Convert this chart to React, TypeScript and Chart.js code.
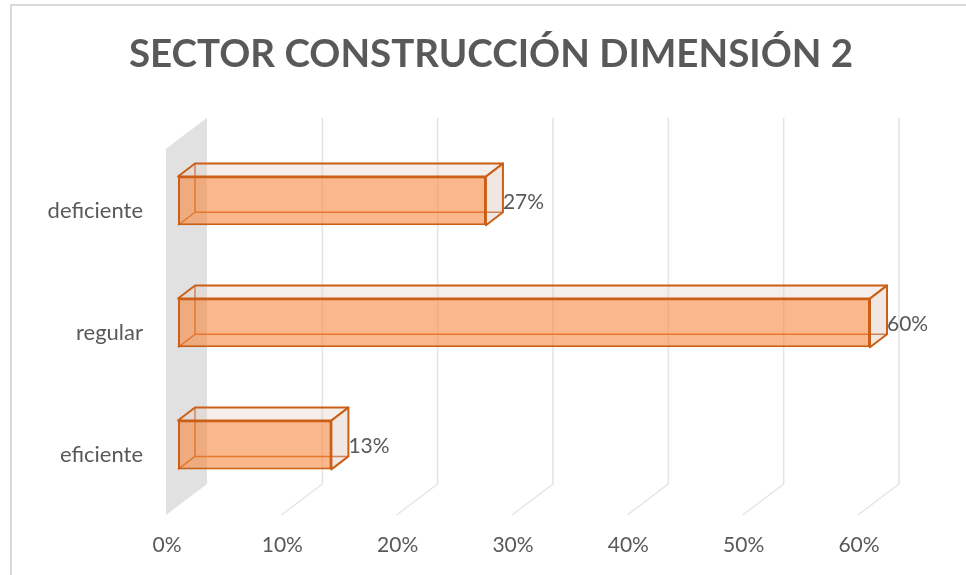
import React, { useEffect, useRef } from 'react';
import { Chart, registerables } from 'chart.js';

Chart.register(...registerables);

// ---- data ----
const TITLE = 'SECTOR CONSTRUCCIÓN DIMENSIÓN 2';
const categories = ['deficiente', 'regular', 'eficiente'];
const values = [26.7, 60, 13.3];
const xTicks = [0, 10, 20, 30, 40, 50, 60];

// ---- style ----
const TEXT = '#595959';
const FONT = 'Lato, "Open Sans", sans-serif';
const EDGE = '#CC5F16';
const FRONT_FILL = 'rgba(246,135,62,0.6)';
const TOP_FILL = 'rgba(225,205,195,0.35)';
const SIDE_FILL = 'rgba(215,190,180,0.38)';
const WALL = '#e1e1e1';
const GRID = '#e4e4e4';

// projection offsets (px) relative to the bar front plane
const FLOOR = { dx: -12, dy: 9 };
const BACK = { dx: 29, dy: -22 };
const DEPTH = { dx: 17, dy: -13 };

const poly = (ctx: CanvasRenderingContext2D, pts: number[][]) => {
  ctx.beginPath();
  ctx.moveTo(pts[0][0], pts[0][1]);
  for (let i = 1; i < pts.length; i++) ctx.lineTo(pts[i][0], pts[i][1]);
  ctx.closePath();
};

const plot3d = {
  id: 'plot3d',
  beforeDraw(chart: any) {
    const { ctx } = chart;
    ctx.save();
    ctx.strokeStyle = '#d9d9d9';
    ctx.lineWidth = 2;
    ctx.beginPath();
    ctx.moveTo(11, chart.height + 5);
    ctx.lineTo(11, 5);
    ctx.lineTo(chart.width + 5, 5);
    ctx.stroke();
    ctx.restore();
  },
  beforeDatasetsDraw(chart: any) {
    const { ctx, chartArea: a } = chart;
    const xs = chart.scales.x;
    const x0 = xs.getPixelForValue(0);
    ctx.save();
    // side wall
    ctx.fillStyle = WALL;
    poly(ctx, [
      [x0 + FLOOR.dx, a.top + FLOOR.dy],
      [x0 + BACK.dx, a.top + BACK.dy],
      [x0 + BACK.dx, a.bottom + BACK.dy],
      [x0 + FLOOR.dx, a.bottom + FLOOR.dy],
    ]);
    ctx.fill();
    // gridlines (back wall + floor)
    ctx.strokeStyle = GRID;
    ctx.lineWidth = 1.5;
    xTicks.forEach((v) => {
      if (v === 0) return;
      const p = xs.getPixelForValue(v);
      ctx.beginPath();
      ctx.moveTo(p + BACK.dx, a.top + BACK.dy);
      ctx.lineTo(p + BACK.dx, a.bottom + BACK.dy);
      ctx.lineTo(p + FLOOR.dx, a.bottom + FLOOR.dy);
      ctx.stroke();
    });
    // bars: hidden edges, top face, right face
    const meta = chart.getDatasetMeta(0);
    meta.data.forEach((el: any) => {
      const { x: r, y: cy, base: l, height: h } = el.getProps(['x', 'y', 'base', 'height'], true);
      const t = cy - h / 2;
      const b = cy + h / 2;
      const dx = DEPTH.dx;
      const dy = DEPTH.dy;
      ctx.strokeStyle = EDGE;
      ctx.lineWidth = 1.5;
      ctx.beginPath();
      ctx.moveTo(l + dx, t + dy);
      ctx.lineTo(l + dx, b + dy);
      ctx.lineTo(r + dx, b + dy);
      ctx.moveTo(l, b);
      ctx.lineTo(l + dx, b + dy);
      ctx.stroke();
      ctx.lineWidth = 2;
      ctx.lineJoin = 'round';
      ctx.fillStyle = TOP_FILL;
      poly(ctx, [[l, t], [l + dx, t + dy], [r + dx, t + dy], [r, t]]);
      ctx.fill();
      ctx.stroke();
      ctx.fillStyle = SIDE_FILL;
      poly(ctx, [[r, t], [r + dx, t + dy], [r + dx, b + dy], [r, b]]);
      ctx.fill();
      ctx.stroke();
    });
    ctx.restore();
  },
  afterDatasetsDraw(chart: any) {
    const { ctx } = chart;
    const meta = chart.getDatasetMeta(0);
    ctx.save();
    ctx.fillStyle = TEXT;
    ctx.font = `21px ${FONT}`;
    ctx.textAlign = 'left';
    ctx.textBaseline = 'middle';
    meta.data.forEach((el: any, i: number) => {
      const { x: r, y: cy } = el.getProps(['x', 'y'], true);
      ctx.fillText(`${Math.round(values[i])}%`, r + DEPTH.dx, cy + 1.5);
    });
    ctx.restore();
  },
};

export default function App() {
  const ref = useRef<HTMLCanvasElement>(null);
  useEffect(() => {
    if (!ref.current) return;
    const chart = new Chart(ref.current, {
      type: 'bar',
      data: {
        labels: categories,
        datasets: [
          {
            data: values,
            backgroundColor: FRONT_FILL,
            borderColor: EDGE,
            borderWidth: 2,
            borderSkipped: false,
            barPercentage: 0.4,
            categoryPercentage: 1,
          },
        ],
      },
      options: {
        indexAxis: 'y',
        responsive: false,
        animation: false,
        devicePixelRatio: 1,
        layout: { padding: { left: 40, right: 24, top: 0, bottom: 0 } },
        plugins: {
          legend: { display: false },
          tooltip: { enabled: false },
          title: {
            display: true,
            text: TITLE,
            color: TEXT,
            font: { family: FONT, size: 38.5, weight: 'bold' },
            padding: { top: 31, bottom: 62.6 },
          },
        },
        scales: {
          x: {
            min: 0,
            max: 60,
            afterFit: (s: any) => {
              s.height = 69;
            },
            grid: { display: false, drawTicks: false },
            border: { display: false },
            ticks: {
              stepSize: 10,
              padding: 27,
              labelOffset: -11,
              maxRotation: 0,
              color: TEXT,
              font: { family: FONT, size: 21 },
              callback: (v: any) => `${v}%`,
            },
          },
          y: {
            afterFit: (s: any) => {
              s.width = 138;
            },
            grid: { display: false, drawTicks: false },
            border: { display: false },
            ticks: {
              padding: 35,
              labelOffset: 10,
              color: TEXT,
              font: { family: FONT, size: 22 },
            },
          },
          yRight: {
            type: 'category',
            position: 'right',
            afterFit: (s: any) => {
              s.width = 72;
            },
            grid: { display: false, drawTicks: false },
            border: { display: false },
            ticks: { display: false },
          },
        },
      },
      plugins: [plot3d],
    } as any);
    return () => chart.destroy();
  }, []);
  return (
    <div style={{ position: 'absolute', left: 0, top: 0, width: 966, height: 575, background: '#fff' }}>
      <canvas ref={ref} width={966} height={575} style={{ display: 'block' }} />
    </div>
  );
}
